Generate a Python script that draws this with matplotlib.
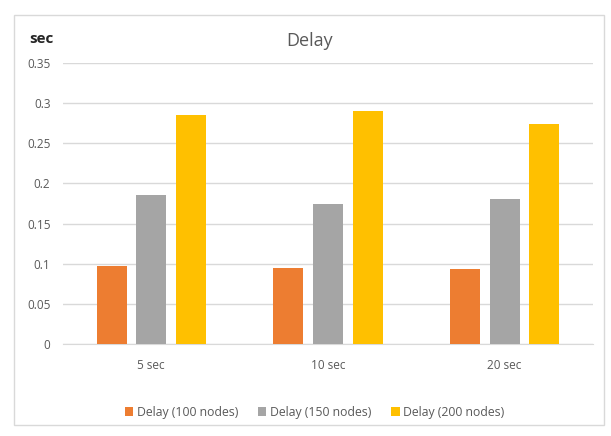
import numpy as np
import matplotlib.pyplot as plt
from matplotlib.patches import Rectangle

# delay measured for each pause time, per network size
pause_times = ["5 sec", "10 sec", "20 sec"]
series_names = ["Delay (100 nodes)", "Delay (150 nodes)", "Delay (200 nodes)"]
delay_100 = [0.097, 0.095, 0.094]
delay_150 = [0.186, 0.175, 0.181]
delay_200 = [0.285, 0.290, 0.274]
y_ticks = [0, 0.05, 0.1, 0.15, 0.2, 0.25, 0.3, 0.35]
y_tick_labels = ["0", "0.05", "0.1", "0.15", "0.2", "0.25", "0.3", "0.35"]

colors = ["#ED7D31", "#A5A5A5", "#FFC000"]
text_gray = "#595959"
plt.rcParams['font.family'] = ['Open Sans', 'DejaVu Sans']

fig = plt.figure(figsize=(6.11, 4.36), dpi=100)
ax = fig.add_axes([0.103, 0.211, 0.8675, 0.6445])

# light frame around the whole chart
fig.patches.append(Rectangle((0.023, 0.025), 0.966, 0.94, transform=fig.transFigure,
                             fill=False, edgecolor="#D9D9D9", linewidth=1))

x = np.arange(len(pause_times))
width = 0.17
step = 0.224
for i, (vals, name) in enumerate(zip([delay_100, delay_150, delay_200], series_names)):
    ax.bar(x + (i - 1) * step, vals, width, color=colors[i], label=name, zorder=3)

ax.set_xlim(-0.5, 2.5)
ax.set_ylim(0, 0.35)
ax.set_yticks(y_ticks)
ax.set_yticklabels(y_tick_labels)
ax.set_xticks(x)
ax.set_xticklabels(pause_times)
ax.tick_params(axis='both', length=0, colors=text_gray, labelsize=8.5)
ax.tick_params(axis='x', pad=11)
ax.tick_params(axis='y', pad=9)
ax.grid(axis='y', color="#D9D9D9", linewidth=1, zorder=0)
for side in ["top", "right", "left"]:
    ax.spines[side].set_visible(False)
ax.spines["bottom"].set_color("#D9D9D9")

fig.text(0.507, 0.905, "Delay", ha='center', va='center', fontsize=13, color=text_gray)
fig.text(0.068, 0.91, "sec", ha='center', va='center', fontsize=11, fontweight='bold', color="#262626")

ax.legend(loc='center', bbox_to_anchor=(0.515, 0.055), bbox_transform=fig.transFigure,
          ncol=3, frameon=False, fontsize=8.8, labelcolor=text_gray,
          handlelength=0.7, handleheight=0.7, handletextpad=0.3, columnspacing=1.6)

fig.savefig("out.png", dpi=100)
